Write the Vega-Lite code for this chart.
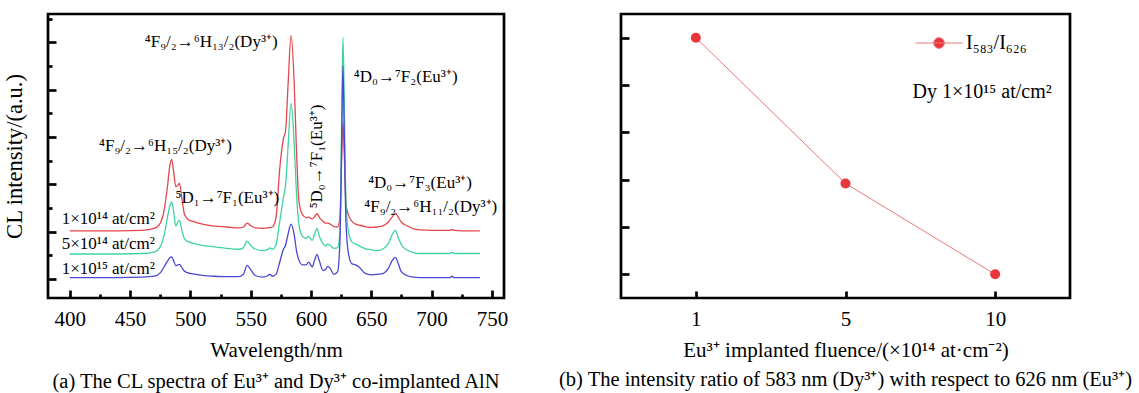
{
  "$schema": "https://vega.github.io/schema/vega-lite/v6.json",
  "padding": {"left": 2, "top": 12, "right": 0, "bottom": 0},
  "spacing": 117,
  "bounds": "flush",
  "resolve": {"scale": {"color": "independent"}, "legend": {"color": "independent"}},
  "config": {
    "font": "Liberation Serif",
    "view": {"stroke": "#000", "strokeWidth": 2.7},
    "axis": {"domain": false, "grid": false, "tickColor": "#000", "tickWidth": 2.7, "labelColor": "#000", "labelFontSize": 21, "labelFont": "Liberation Serif", "titleColor": "#000", "titleFontSize": 21, "titleFontWeight": "normal", "titleFont": "Liberation Serif"},
    "title": {"font": "Liberation Serif", "fontWeight": "normal", "color": "#000", "fontSize": 20.5}
  },
  "datasets": {
    "spec": [
      {"wl":400,"v":1.02,"s":"1e14"},{"wl":420,"v":1.02,"s":"1e14"},{"wl":440,"v":1.02,"s":"1e14"},{"wl":460,"v":1.03,"s":"1e14"},{"wl":470,"v":1.07,"s":"1e14"},{"wl":475,"v":1.18,"s":"1e14"},{"wl":478,"v":1.42,"s":"1e14"},{"wl":481,"v":1.95,"s":"1e14"},{"wl":483,"v":2.4,"s":"1e14"},{"wl":484.5,"v":2.53,"s":"1e14"},{"wl":486,"v":2.3,"s":"1e14"},{"wl":488,"v":1.95,"s":"1e14"},{"wl":489.5,"v":1.98,"s":"1e14"},{"wl":491,"v":2.02,"s":"1e14"},{"wl":493,"v":1.7,"s":"1e14"},{"wl":495,"v":1.38,"s":"1e14"},{"wl":498,"v":1.26,"s":"1e14"},{"wl":502,"v":1.22,"s":"1e14"},{"wl":510,"v":1.16,"s":"1e14"},{"wl":520,"v":1.12,"s":"1e14"},{"wl":530,"v":1.1,"s":"1e14"},{"wl":540,"v":1.08,"s":"1e14"},{"wl":544,"v":1.1,"s":"1e14"},{"wl":547,"v":1.18,"s":"1e14"},{"wl":550,"v":1.13,"s":"1e14"},{"wl":554,"v":1.08,"s":"1e14"},{"wl":560,"v":1.07,"s":"1e14"},{"wl":564,"v":1.08,"s":"1e14"},{"wl":566,"v":1.09,"s":"1e14"},{"wl":568,"v":1.1,"s":"1e14"},{"wl":571,"v":1.3,"s":"1e14"},{"wl":574,"v":2.3,"s":"1e14"},{"wl":577,"v":2.95,"s":"1e14"},{"wl":579,"v":3.15,"s":"1e14"},{"wl":581,"v":4.1,"s":"1e14"},{"wl":583.5,"v":5.15,"s":"1e14"},{"wl":586,"v":4.2,"s":"1e14"},{"wl":588,"v":2.7,"s":"1e14"},{"wl":590,"v":1.65,"s":"1e14"},{"wl":593,"v":1.36,"s":"1e14"},{"wl":596,"v":1.3,"s":"1e14"},{"wl":598,"v":1.31,"s":"1e14"},{"wl":601,"v":1.27,"s":"1e14"},{"wl":603,"v":1.32,"s":"1e14"},{"wl":605,"v":1.38,"s":"1e14"},{"wl":607,"v":1.3,"s":"1e14"},{"wl":610,"v":1.22,"s":"1e14"},{"wl":612,"v":1.18,"s":"1e14"},{"wl":614,"v":1.18,"s":"1e14"},{"wl":616,"v":1.16,"s":"1e14"},{"wl":619,"v":1.11,"s":"1e14"},{"wl":622,"v":1.1,"s":"1e14"},{"wl":624,"v":1.3,"s":"1e14"},{"wl":625.5,"v":2.6,"s":"1e14"},{"wl":626.5,"v":3.32,"s":"1e14"},{"wl":627.5,"v":2.7,"s":"1e14"},{"wl":629,"v":1.6,"s":"1e14"},{"wl":631,"v":1.36,"s":"1e14"},{"wl":634,"v":1.22,"s":"1e14"},{"wl":637,"v":1.16,"s":"1e14"},{"wl":640,"v":1.14,"s":"1e14"},{"wl":645,"v":1.11,"s":"1e14"},{"wl":650,"v":1.09,"s":"1e14"},{"wl":655,"v":1.1,"s":"1e14"},{"wl":660,"v":1.13,"s":"1e14"},{"wl":664,"v":1.2,"s":"1e14"},{"wl":667,"v":1.3,"s":"1e14"},{"wl":670,"v":1.39,"s":"1e14"},{"wl":672,"v":1.32,"s":"1e14"},{"wl":675,"v":1.2,"s":"1e14"},{"wl":680,"v":1.12,"s":"1e14"},{"wl":685,"v":1.06,"s":"1e14"},{"wl":690,"v":1.04,"s":"1e14"},{"wl":700,"v":1.03,"s":"1e14"},{"wl":710,"v":1.03,"s":"1e14"},{"wl":715,"v":1.03,"s":"1e14"},{"wl":717,"v":1.05,"s":"1e14"},{"wl":719,"v":1.03,"s":"1e14"},{"wl":725,"v":1.02,"s":"1e14"},{"wl":740,"v":1.02,"s":"1e14"},

      {"wl":400,"v":0.53,"s":"5e14"},{"wl":420,"v":0.53,"s":"5e14"},{"wl":440,"v":0.53,"s":"5e14"},{"wl":460,"v":0.54,"s":"5e14"},{"wl":470,"v":0.57,"s":"5e14"},{"wl":475,"v":0.68,"s":"5e14"},{"wl":478,"v":0.9,"s":"5e14"},{"wl":481,"v":1.3,"s":"5e14"},{"wl":483,"v":1.55,"s":"5e14"},{"wl":484.5,"v":1.63,"s":"5e14"},{"wl":486,"v":1.45,"s":"5e14"},{"wl":488,"v":1.12,"s":"5e14"},{"wl":489.5,"v":1.2,"s":"5e14"},{"wl":491,"v":1.24,"s":"5e14"},{"wl":493,"v":1.02,"s":"5e14"},{"wl":495,"v":0.86,"s":"5e14"},{"wl":498,"v":0.79,"s":"5e14"},{"wl":502,"v":0.76,"s":"5e14"},{"wl":510,"v":0.71,"s":"5e14"},{"wl":520,"v":0.68,"s":"5e14"},{"wl":530,"v":0.65,"s":"5e14"},{"wl":540,"v":0.63,"s":"5e14"},{"wl":544,"v":0.66,"s":"5e14"},{"wl":547,"v":0.8,"s":"5e14"},{"wl":550,"v":0.71,"s":"5e14"},{"wl":554,"v":0.63,"s":"5e14"},{"wl":560,"v":0.6,"s":"5e14"},{"wl":564,"v":0.62,"s":"5e14"},{"wl":566,"v":0.66,"s":"5e14"},{"wl":568,"v":0.63,"s":"5e14"},{"wl":571,"v":0.72,"s":"5e14"},{"wl":574,"v":1.2,"s":"5e14"},{"wl":577,"v":1.7,"s":"5e14"},{"wl":579,"v":2.0,"s":"5e14"},{"wl":581,"v":2.8,"s":"5e14"},{"wl":583.5,"v":3.71,"s":"5e14"},{"wl":586,"v":2.9,"s":"5e14"},{"wl":588,"v":1.8,"s":"5e14"},{"wl":590,"v":1.15,"s":"5e14"},{"wl":593,"v":0.9,"s":"5e14"},{"wl":596,"v":0.86,"s":"5e14"},{"wl":598,"v":0.9,"s":"5e14"},{"wl":601,"v":0.82,"s":"5e14"},{"wl":603,"v":0.95,"s":"5e14"},{"wl":605,"v":1.07,"s":"5e14"},{"wl":607,"v":0.9,"s":"5e14"},{"wl":610,"v":0.75,"s":"5e14"},{"wl":612,"v":0.7,"s":"5e14"},{"wl":614,"v":0.74,"s":"5e14"},{"wl":616,"v":0.71,"s":"5e14"},{"wl":619,"v":0.65,"s":"5e14"},{"wl":622,"v":0.66,"s":"5e14"},{"wl":624,"v":1.0,"s":"5e14"},{"wl":625.5,"v":3.5,"s":"5e14"},{"wl":626.5,"v":5.1,"s":"5e14"},{"wl":627.5,"v":3.9,"s":"5e14"},{"wl":629,"v":1.6,"s":"5e14"},{"wl":631,"v":1.0,"s":"5e14"},{"wl":634,"v":0.78,"s":"5e14"},{"wl":637,"v":0.74,"s":"5e14"},{"wl":640,"v":0.7,"s":"5e14"},{"wl":645,"v":0.64,"s":"5e14"},{"wl":650,"v":0.62,"s":"5e14"},{"wl":655,"v":0.6,"s":"5e14"},{"wl":660,"v":0.64,"s":"5e14"},{"wl":664,"v":0.75,"s":"5e14"},{"wl":667,"v":0.92,"s":"5e14"},{"wl":670,"v":1.03,"s":"5e14"},{"wl":672,"v":0.9,"s":"5e14"},{"wl":675,"v":0.72,"s":"5e14"},{"wl":680,"v":0.61,"s":"5e14"},{"wl":685,"v":0.56,"s":"5e14"},{"wl":690,"v":0.54,"s":"5e14"},{"wl":700,"v":0.54,"s":"5e14"},{"wl":710,"v":0.54,"s":"5e14"},{"wl":715,"v":0.54,"s":"5e14"},{"wl":717,"v":0.57,"s":"5e14"},{"wl":719,"v":0.54,"s":"5e14"},{"wl":725,"v":0.54,"s":"5e14"},{"wl":740,"v":0.54,"s":"5e14"},

      {"wl":400,"v":0.03,"s":"1e15"},{"wl":420,"v":0.03,"s":"1e15"},{"wl":440,"v":0.03,"s":"1e15"},{"wl":460,"v":0.04,"s":"1e15"},{"wl":470,"v":0.06,"s":"1e15"},{"wl":475,"v":0.13,"s":"1e15"},{"wl":478,"v":0.25,"s":"1e15"},{"wl":481,"v":0.38,"s":"1e15"},{"wl":483,"v":0.45,"s":"1e15"},{"wl":484.5,"v":0.47,"s":"1e15"},{"wl":486,"v":0.4,"s":"1e15"},{"wl":488,"v":0.28,"s":"1e15"},{"wl":489.5,"v":0.3,"s":"1e15"},{"wl":491,"v":0.31,"s":"1e15"},{"wl":493,"v":0.24,"s":"1e15"},{"wl":495,"v":0.17,"s":"1e15"},{"wl":498,"v":0.13,"s":"1e15"},{"wl":502,"v":0.11,"s":"1e15"},{"wl":510,"v":0.08,"s":"1e15"},{"wl":520,"v":0.06,"s":"1e15"},{"wl":530,"v":0.05,"s":"1e15"},{"wl":540,"v":0.05,"s":"1e15"},{"wl":544,"v":0.1,"s":"1e15"},{"wl":547,"v":0.29,"s":"1e15"},{"wl":550,"v":0.2,"s":"1e15"},{"wl":554,"v":0.07,"s":"1e15"},{"wl":560,"v":0.04,"s":"1e15"},{"wl":564,"v":0.07,"s":"1e15"},{"wl":566,"v":0.1,"s":"1e15"},{"wl":568,"v":0.06,"s":"1e15"},{"wl":571,"v":0.1,"s":"1e15"},{"wl":574,"v":0.35,"s":"1e15"},{"wl":577,"v":0.62,"s":"1e15"},{"wl":579,"v":0.72,"s":"1e15"},{"wl":581,"v":0.95,"s":"1e15"},{"wl":583.5,"v":1.16,"s":"1e15"},{"wl":586,"v":0.95,"s":"1e15"},{"wl":588,"v":0.6,"s":"1e15"},{"wl":590,"v":0.4,"s":"1e15"},{"wl":593,"v":0.3,"s":"1e15"},{"wl":596,"v":0.3,"s":"1e15"},{"wl":598,"v":0.36,"s":"1e15"},{"wl":601,"v":0.26,"s":"1e15"},{"wl":603,"v":0.4,"s":"1e15"},{"wl":605,"v":0.52,"s":"1e15"},{"wl":607,"v":0.38,"s":"1e15"},{"wl":610,"v":0.18,"s":"1e15"},{"wl":612,"v":0.2,"s":"1e15"},{"wl":614,"v":0.27,"s":"1e15"},{"wl":616,"v":0.22,"s":"1e15"},{"wl":619,"v":0.1,"s":"1e15"},{"wl":622,"v":0.15,"s":"1e15"},{"wl":624,"v":0.8,"s":"1e15"},{"wl":625.5,"v":3.0,"s":"1e15"},{"wl":626.5,"v":4.5,"s":"1e15"},{"wl":627.5,"v":3.2,"s":"1e15"},{"wl":629,"v":1.2,"s":"1e15"},{"wl":631,"v":0.55,"s":"1e15"},{"wl":634,"v":0.32,"s":"1e15"},{"wl":637,"v":0.3,"s":"1e15"},{"wl":640,"v":0.25,"s":"1e15"},{"wl":645,"v":0.12,"s":"1e15"},{"wl":650,"v":0.09,"s":"1e15"},{"wl":655,"v":0.1,"s":"1e15"},{"wl":660,"v":0.12,"s":"1e15"},{"wl":664,"v":0.22,"s":"1e15"},{"wl":667,"v":0.38,"s":"1e15"},{"wl":670,"v":0.46,"s":"1e15"},{"wl":672,"v":0.35,"s":"1e15"},{"wl":675,"v":0.15,"s":"1e15"},{"wl":680,"v":0.07,"s":"1e15"},{"wl":685,"v":0.04,"s":"1e15"},{"wl":690,"v":0.03,"s":"1e15"},{"wl":700,"v":0.03,"s":"1e15"},{"wl":710,"v":0.03,"s":"1e15"},{"wl":715,"v":0.03,"s":"1e15"},{"wl":717,"v":0.06,"s":"1e15"},{"wl":719,"v":0.03,"s":"1e15"},{"wl":725,"v":0.03,"s":"1e15"},{"wl":740,"v":0.03,"s":"1e15"}
    ],
    "anno": [
      {"wl": 517.3, "v": 5.0, "t": "⁴F₉/₂→⁶H₁₃/₂(Dy³⁺)"},
      {"wl": 678.5, "v": 4.27, "t": "⁴D₀→⁷F₂(Eu³⁺)"},
      {"wl": 479.4, "v": 2.82, "t": "⁴F₉/₂→⁶H₁₅/₂(Dy³⁺)"},
      {"wl": 530.7, "v": 1.71, "t": "⁵D₁→⁷F₁(Eu³⁺)"},
      {"wl": 690.4, "v": 2.04, "t": "⁴D₀→⁷F₃(Eu³⁺)"},
      {"wl": 699.3, "v": 1.52, "t": "⁴F₉/₂→⁶H₁₁/₂(Dy³⁺)"},
      {"wl": 432, "v": 1.27, "t": "1×10¹⁴ at/cm²"},
      {"wl": 432, "v": 0.74, "t": "5×10¹⁴ at/cm²"},
      {"wl": 432, "v": 0.22, "t": "1×10¹⁵ at/cm²"}
    ],
    "vert": [
      {"wl": 605, "v": 2.59, "t": "⁵D₀→⁷F₁(Eu³⁺)"}
    ],
    "ratio": [
      {"fluence": "1", "ratio": 5.0, "series": "I₅₈₃/I₆₂₆"},
      {"fluence": "5", "ratio": 1.92, "series": "I₅₈₃/I₆₂₆"},
      {"fluence": "10", "ratio": 0.0, "series": "I₅₈₃/I₆₂₆"}
    ],
    "note": [
      {"fluence": "10", "ratio": 3.86, "t": "Dy 1×10¹⁵ at/cm²"}
    ]
  },
  "hconcat": [
    {
      "width": 456,
      "height": 284,
      "title": {"text": "(a) The CL spectra of Eu³⁺ and Dy³⁺ co-implanted AlN", "orient": "bottom", "anchor": "middle", "offset": 12},
      "resolve": {"axis": {"x": "independent", "y": "independent"}},
      "layer": [
        {
          "data": {"name": "spec"},
          "mark": {"type": "line", "strokeWidth": 1.3, "interpolate": "monotone"},
          "encoding": {
            "x": {"field": "wl", "type": "quantitative", "scale": {"domain": [382, 760], "nice": false, "zero": false},
              "axis": {"orient": "bottom", "values": [400, 450, 500, 550, 600, 650, 700, 750], "tickSize": -8, "labelPadding": 18, "title": "Wavelength/nm", "titlePadding": 10}},
            "y": {"field": "v", "type": "quantitative", "scale": {"domain": [-0.4, 5.6], "nice": false, "zero": false},
              "axis": {"orient": "left", "values": [0, 1, 2, 3, 4, 5], "tickSize": -8, "labels": false, "title": "CL intensity/(a.u.)", "titleFontSize": 22.5, "titlePadding": 20}},
            "color": {"field": "s", "type": "nominal", "scale": {"domain": ["1e14", "5e14", "1e15"], "range": ["#e4474b", "#3fd3a2", "#4a48d2"]}, "legend": null}
          }
        },
        {
          "data": {"name": "anno"},
          "mark": {"type": "text", "fontSize": 17, "align": "center", "baseline": "middle", "color": "#000"},
          "encoding": {
            "x": {"field": "wl", "type": "quantitative", "scale": {"domain": [382, 760], "nice": false, "zero": false},
              "axis": {"orient": "bottom", "values": [425, 475, 525, 575, 625, 675, 725], "tickSize": -4, "labels": false, "title": null}},
            "y": {"field": "v", "type": "quantitative", "scale": {"domain": [-0.4, 5.6], "nice": false, "zero": false},
              "axis": {"orient": "left", "values": [0.5, 1.5, 2.5, 3.5, 4.5, 5.5], "tickSize": -4, "labels": false, "title": null}},
            "text": {"field": "t"}
          }
        },
        {
          "data": {"name": "vert"},
          "mark": {"type": "text", "fontSize": 17, "align": "center", "baseline": "middle", "angle": 270, "color": "#000"},
          "encoding": {
            "x": {"field": "wl", "type": "quantitative", "scale": {"domain": [382, 760], "nice": false, "zero": false}, "axis": null},
            "y": {"field": "v", "type": "quantitative", "scale": {"domain": [-0.4, 5.6], "nice": false, "zero": false}, "axis": null},
            "text": {"field": "t"}
          }
        }
      ]
    },
    {
      "width": 449,
      "height": 284,
      "title": {"text": "(b) The intensity ratio of 583 nm (Dy³⁺) with respect to 626 nm (Eu³⁺)", "orient": "bottom", "anchor": "middle", "offset": 10},
      "layer": [
        {
          "data": {"name": "ratio"},
          "mark": {"type": "line", "color": "#e87a7a", "strokeWidth": 1},
          "encoding": {
            "x": {"field": "fluence", "type": "ordinal", "sort": null, "scale": {"type": "point", "padding": 0.5},
              "axis": {"labelAngle": 0, "tickSize": -7, "labelPadding": 17, "title": "Eu³⁺ implanted fluence/(×10¹⁴ at·cm⁻²)", "titlePadding": 10}},
            "y": {"field": "ratio", "type": "quantitative", "scale": {"domain": [-0.5, 5.5], "nice": false, "zero": false},
              "axis": {"values": [0, 1, 2, 3, 4, 5], "tickSize": -8, "labels": false, "title": null}}
          }
        },
        {
          "data": {"name": "ratio"},
          "mark": {"type": "circle", "size": 100, "opacity": 1},
          "encoding": {
            "x": {"field": "fluence", "type": "ordinal", "sort": null},
            "y": {"field": "ratio", "type": "quantitative"},
            "color": {"field": "series", "type": "nominal", "scale": {"range": ["#e8363c"]},
              "legend": {"orient": "none", "legendX": 294, "legendY": 5, "title": null, "padding": 0,
                "symbolType": "M-1,0L1,0M0.23,0L0.199,0.115L0.115,0.199L0,0.23L-0.115,0.199L-0.199,0.115L-0.23,0L-0.199,-0.115L-0.115,-0.199L0,-0.23L0.115,-0.199L0.199,-0.115Z",
                "symbolSize": 2209, "symbolStrokeWidth": 1, "symbolStrokeColor": "#e87a7a", "symbolFillColor": "#e8363c",
                "labelFontSize": 20, "labelFont": "Liberation Serif", "labelColor": "#000", "labelOffset": 3,
                "encode": {"symbols": {"update": {"stroke": {"value": "#e87a7a"}, "strokeWidth": {"value": 1}, "fill": {"value": "#e8363c"}, "opacity": {"value": 1}}}}}}
          }
        },
        {
          "data": {"name": "note"},
          "mark": {"type": "text", "fontSize": 20, "align": "center", "baseline": "middle", "dx": -13, "color": "#000"},
          "encoding": {
            "x": {"field": "fluence", "type": "ordinal", "sort": null},
            "y": {"field": "ratio", "type": "quantitative"},
            "text": {"field": "t"}
          }
        }
      ]
    }
  ]
}
